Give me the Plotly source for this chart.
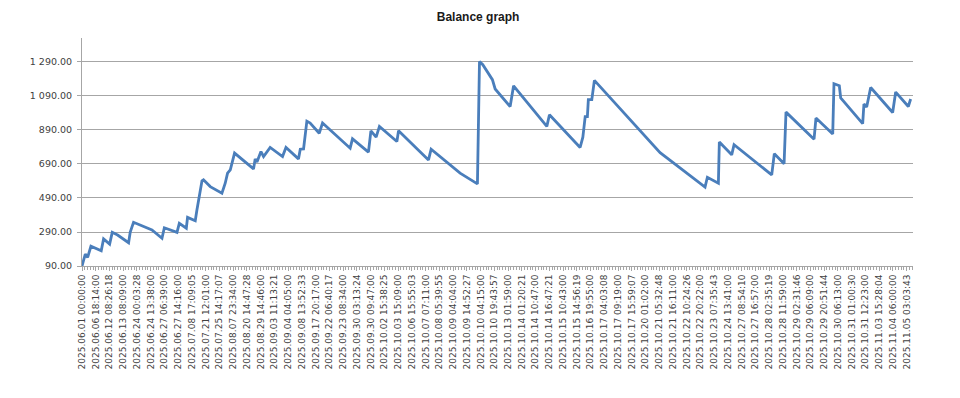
import plotly.graph_objects as go

# Tick labels along the category axis (one every few deals)
tick_labels = [
    "2025.06.01 00:00:00", "2025.06.06 18:14:00", "2025.06.12 08:26:18", "2025.06.13 08:09:00",
    "2025.06.24 00:03:28", "2025.06.24 13:38:00", "2025.06.27 06:39:00", "2025.06.27 14:16:00",
    "2025.07.08 17:09:05", "2025.07.21 12:01:00", "2025.07.25 14:17:07", "2025.08.07 23:34:00",
    "2025.08.20 14:47:28", "2025.08.29 14:46:00", "2025.09.03 11:13:21", "2025.09.04 04:05:00",
    "2025.09.08 13:52:33", "2025.09.17 20:17:00", "2025.09.22 06:40:17", "2025.09.23 08:34:00",
    "2025.09.30 03:13:24", "2025.09.30 09:47:00", "2025.10.02 15:38:25", "2025.10.03 15:09:00",
    "2025.10.06 15:55:03", "2025.10.07 07:11:00", "2025.10.08 05:39:55", "2025.10.09 04:04:00",
    "2025.10.09 14:52:27", "2025.10.10 04:15:00", "2025.10.10 19:43:57", "2025.10.13 01:59:00",
    "2025.10.14 01:20:21", "2025.10.14 10:47:00", "2025.10.14 16:47:21", "2025.10.15 10:43:00",
    "2025.10.15 14:56:19", "2025.10.16 19:55:00", "2025.10.17 04:03:08", "2025.10.17 09:19:00",
    "2025.10.17 15:59:07", "2025.10.20 01:02:00", "2025.10.21 05:32:48", "2025.10.21 16:11:00",
    "2025.10.22 10:24:26", "2025.10.22 20:22:00", "2025.10.23 07:35:43", "2025.10.24 13:41:00",
    "2025.10.27 08:54:10", "2025.10.27 16:57:00", "2025.10.28 02:35:19", "2025.10.28 11:59:00",
    "2025.10.29 02:31:46", "2025.10.29 06:09:00", "2025.10.29 20:51:44", "2025.10.30 06:13:00",
    "2025.10.31 01:00:30", "2025.10.31 12:23:00", "2025.11.03 15:28:04", "2025.11.04 06:00:00",
    "2025.11.05 03:03:43",
]

# Balance curve vertices: position along the deal axis (in label units) and balance
deal_pos = [
    0.00, 0.24, 0.41, 0.65, 1.40, 1.57, 2.01, 2.20, 2.59, 3.39, 3.51, 3.75, 5.09, 5.82, 5.99,
    6.66, 6.91, 7.08, 7.59, 7.68, 8.24, 8.36, 8.60, 8.73, 8.84, 9.33, 10.18, 10.42, 10.59, 10.79,
    11.10, 12.48, 12.60, 12.73, 13.02, 13.21, 13.69, 14.59, 14.84, 15.75, 15.88, 16.12, 16.36,
    16.60, 17.26, 17.50, 19.51, 19.68, 20.84, 21.02, 21.40, 21.64, 22.91, 23.03, 25.21, 25.40,
    27.51, 28.77, 28.92, 29.16, 29.86, 30.06, 31.15, 31.40, 33.82, 34.01, 36.24, 36.44, 36.61,
    36.77, 36.84, 37.09, 37.28, 42.06, 45.33, 45.50, 46.30, 46.37, 47.27, 47.44, 50.18, 50.37,
    51.08, 51.22, 53.26, 53.40, 54.62, 54.71, 55.10, 55.20, 56.80, 56.89, 57.09, 57.38, 58.98,
    59.20, 60.12, 60.29,
]
balance = [
    90, 160, 141, 206, 180, 249, 219, 288, 272, 227, 290, 347, 302, 253, 315,
    292, 288, 341, 312, 376, 356, 419, 532, 591, 597, 557, 518, 577, 636, 656,
    754, 661, 720, 701, 763, 734, 787, 734, 787, 720, 777, 779, 942,
    931, 871, 931, 783, 838, 760, 885, 848, 911, 822, 885, 714, 777,
    636, 573, 1293, 1274, 1186, 1131, 1028, 1150, 911, 980, 787, 848, 969,
    969, 1068, 1068, 1182, 757, 554, 612, 577, 819, 744, 803, 626, 750,
    691, 995, 836, 960, 866, 1162, 1150, 1078, 927, 1043, 1025, 1140, 993,
    1113, 1028, 1072,
]

y_ticks = [90, 290, 490, 690, 890, 1090, 1290]


def fmt(v):
    return f"{v:,.2f}".replace(",", " ")


fig = go.Figure()
fig.add_trace(go.Scatter(
    x=deal_pos, y=balance, mode="lines",
    line=dict(color="#4a7ebb", width=2.8),
    hoverinfo="skip",
))

grid = "#a6a6a6"
fig.update_layout(
    width=960, height=398,
    margin=dict(l=82, r=47, t=38, b=132),
    paper_bgcolor="white", plot_bgcolor="white",
    showlegend=False,
    title=dict(text="<b>Balance graph</b>", x=0.498, xanchor="center", y=0.957, yanchor="middle",
               font=dict(family="Liberation Sans", size=12, color="#1a1a1a")),
    xaxis=dict(
        range=[0, 60.46],
        tickmode="array",
        tickvals=list(range(len(tick_labels))),
        ticktext=tick_labels,
        tickangle=-90,
        tickfont=dict(family="DejaVu Sans", size=9, color="#404040"),
        showgrid=False, zeroline=False,
        showline=True, linecolor=grid, linewidth=1,
        ticks="outside", ticklen=4, tickcolor=grid,
        minor=dict(dtick=0.2, tick0=0, ticks="outside", ticklen=3, tickcolor=grid, showgrid=False),
        fixedrange=True,
    ),
    yaxis=dict(
        range=[90, 1431],
        tickmode="array",
        tickvals=y_ticks,
        ticktext=[fmt(v) for v in y_ticks],
        tickfont=dict(family="DejaVu Sans", size=9.5, color="#404040"),
        showgrid=True, gridcolor=grid, gridwidth=1,
        zeroline=False,
        showline=True, linecolor=grid, linewidth=1,
        ticks="outside", ticklen=4, tickcolor=grid,
        ticklabelstandoff=3,
        fixedrange=True,
    ),
)

fig.write_html("out.html", config={"displayModeBar": False})
